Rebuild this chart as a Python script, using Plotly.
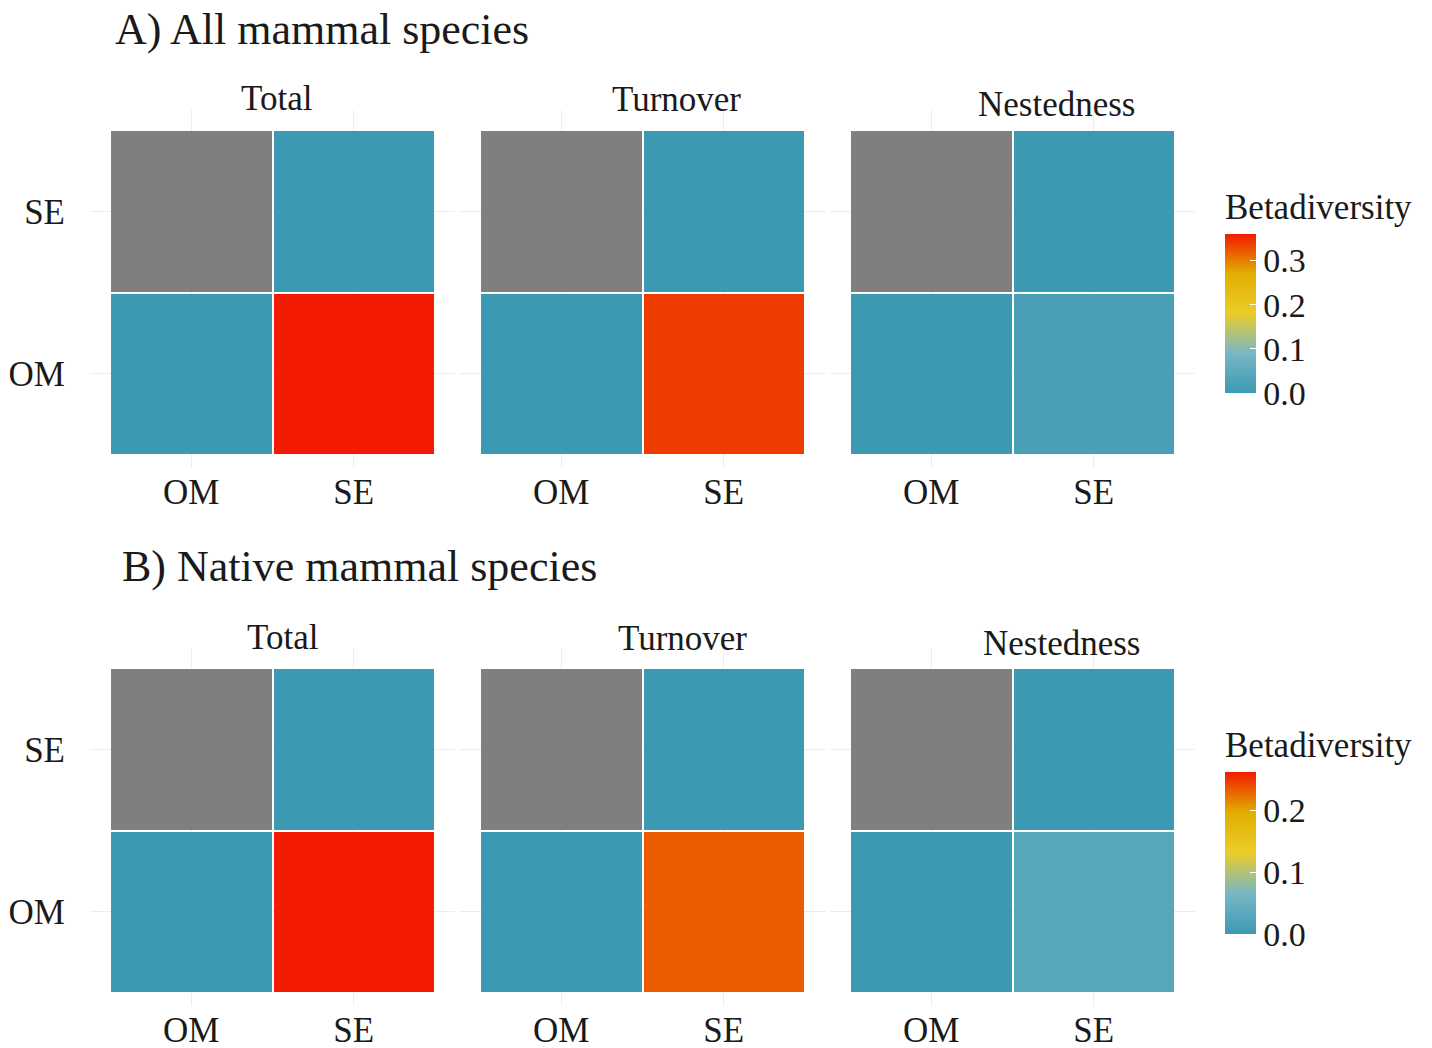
import plotly.graph_objects as go

# Sites compared
sites = ["OM", "SE"]

# Pairwise betadiversity (OM vs SE) for each component
components = ["Total", "Turnover", "Nestedness"]
all_species = [0.36, 0.34, 0.02]
native_species = [0.262, 0.233, 0.03]

row_titles = ["A) All mammal species", "B) Native mammal species"]
legend_title = "Betadiversity"

# Zissou1-style continuous palette
zissou = [[0.0, "#3B9AB2"], [0.25, "#78B7C5"], [0.5, "#EBCC2A"],
          [0.75, "#E1AF00"], [1.0, "#F21A00"]]
na_grey = "#7F7F7F"

W, H = 1432, 1048
FONT = "Liberation Serif, Times New Roman, serif"
INK = "#1a1a1a"

# pixel geometry of the tile areas
col_px = [(110, 435), (480, 805), (850, 1175)]
row_px = [(130, 455), (668, 993)]
PAD = 20    # panel padding around tiles (px)
PAD_B = 13  # smaller padding below the tiles


def px_x(v):
    return v / W


def px_y(v):
    return 1 - v / H


fig = go.Figure()
layout_axes = {}
data_rows = [all_species, native_species]

idx = 0
for r, values in enumerate(data_rows):
    cax = "coloraxis" if r == 0 else "coloraxis2"
    for c, val in enumerate(values):
        idx += 1
        xa = "x" if idx == 1 else f"x{idx}"
        ya = "y" if idx == 1 else f"y{idx}"
        # rows: y = OM (bottom), y = SE (top)
        z = [[0.0, val], [None, 0.0]]
        z_na = [[None, None], [1.0, None]]
        fig.add_trace(go.Heatmap(
            x=sites, y=sites, z=z, coloraxis=cax, xgap=2, ygap=2,
            xaxis=xa, yaxis=ya, hoverongaps=False))
        fig.add_trace(go.Heatmap(
            x=sites, y=sites, z=z_na, zmin=0, zmax=1,
            colorscale=[[0, na_grey], [1, na_grey]], showscale=False,
            xgap=2, ygap=2, xaxis=xa, yaxis=ya, hoverongaps=False))

        x0, x1 = col_px[c]
        y0, y1 = row_px[r]
        cell = (x1 - x0) / 2.0
        p = PAD / cell
        pb = PAD_B / cell
        xkey = "xaxis" if idx == 1 else f"xaxis{idx}"
        ykey = "yaxis" if idx == 1 else f"yaxis{idx}"
        layout_axes[xkey] = dict(
            domain=[px_x(x0 - PAD), px_x(x1 + PAD)], anchor=ya,
            range=[-0.5 - p, 1.5 + p], showgrid=True, gridcolor="#EDEDED",
            gridwidth=1, zeroline=False, showline=False, ticks="",
            automargin=False,
            tickfont=dict(family=FONT, size=35, color=INK),
            ticklabelstandoff=0, fixedrange=True)
        layout_axes[ykey] = dict(
            domain=[px_y(y1 + PAD_B), px_y(y0 - PAD)], anchor=xa,
            range=[-0.5 - pb, 1.5 + p], showgrid=True, gridcolor="#EDEDED",
            gridwidth=1, zeroline=False, showline=False, ticks="",
            automargin=False, showticklabels=(c == 0),
            tickfont=dict(family=FONT, size=35, color=INK),
            ticklabelstandoff=24, fixedrange=True)

fig.update_layout(**layout_axes)

TITLE_H = 45  # room taken by the colorbar title above the bar


def cbar(bar_top, bar_bottom):
    return dict(
        title=dict(text=legend_title, side="top",
                   font=dict(family=FONT, size=35, color=INK)),
        x=px_x(1225), xanchor="left", xpad=0,
        y=px_y(bar_bottom), yanchor="bottom", ypad=0,
        lenmode="pixels", len=(bar_bottom - bar_top) + TITLE_H,
        thickness=31,
        outlinewidth=0, ticks="inside", ticklen=6, tickcolor="white",
        tickwidth=1, dtick=0.1, tick0=0, tickformat=".1f",
        tickfont=dict(family=FONT, size=34, color=INK))


fig.update_layout(
    width=W, height=H,
    margin=dict(l=0, r=0, t=0, b=0, autoexpand=False),
    paper_bgcolor="white", plot_bgcolor="white",
    coloraxis=dict(colorscale=zissou, cmin=0, cmax=max(all_species),
                   colorbar=cbar(235, 393)),
    coloraxis2=dict(colorscale=zissou, cmin=0, cmax=max(native_species),
                    colorbar=cbar(773, 934)),
)

# row headings
fig.add_annotation(text=row_titles[0], x=px_x(113), y=px_y(30),
                   xref="paper", yref="paper", xanchor="left", yanchor="middle",
                   showarrow=False, font=dict(family=FONT, size=44, color=INK))
fig.add_annotation(text=row_titles[1], x=px_x(120), y=px_y(566),
                   xref="paper", yref="paper", xanchor="left", yanchor="middle",
                   showarrow=False, font=dict(family=FONT, size=44, color=INK))

# panel titles
title_pos = [[(277, 99), (676, 100), (1056, 104)],
             [(283, 637), (682, 638), (1061, 643)]]
for r in range(2):
    for c, name in enumerate(components):
        tx, ty = title_pos[r][c]
        fig.add_annotation(text=name, x=px_x(tx), y=px_y(ty),
                           xref="paper", yref="paper", xanchor="center",
                           yanchor="middle", showarrow=False,
                           font=dict(family=FONT, size=35, color=INK))

fig.write_html("out.html")
